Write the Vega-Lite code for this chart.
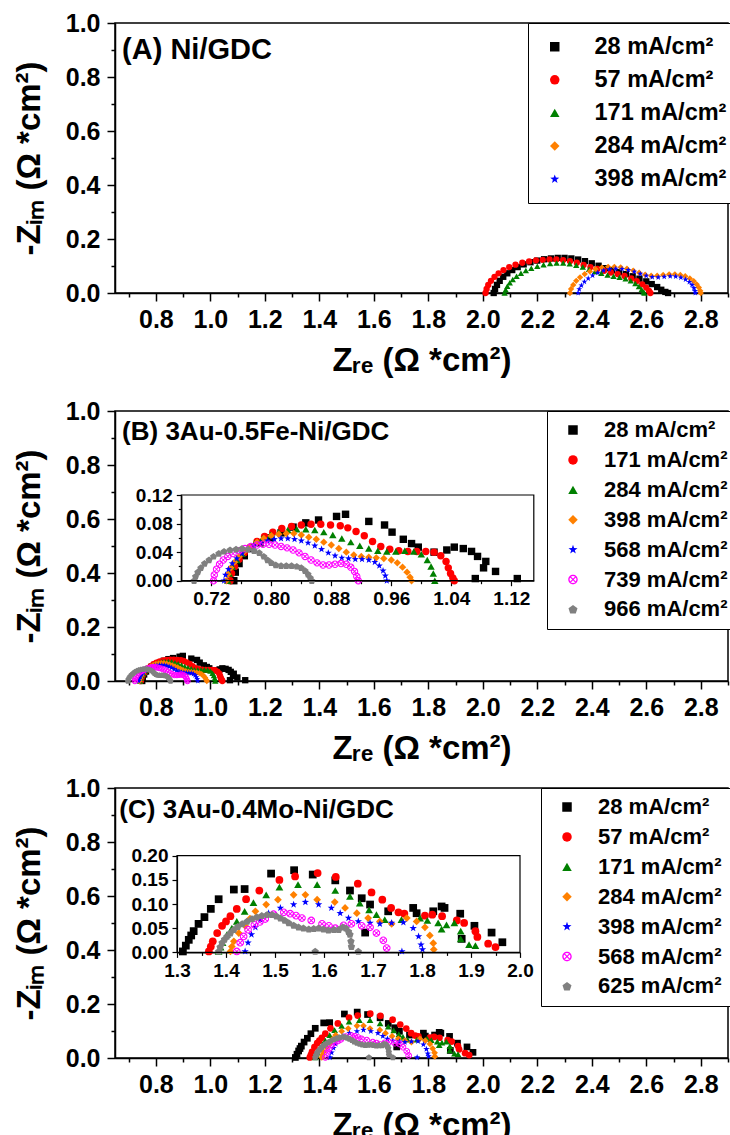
{
  "$schema": "https://vega.github.io/schema/vega-lite/v6.json",
  "background": "white",
  "padding": {"left": 12, "top": 10, "right": 0, "bottom": 0},
  "spacing": 20,
  "config": {
    "font": "Liberation Sans",
    "view": {"stroke": "black", "strokeWidth": 1.5},
    "axis": {"grid": false, "domainColor": "black", "tickColor": "black", "domainWidth": 1.5, "tickWidth": 1.5, "labelColor": "black", "titleColor": "black", "labelFont": "Liberation Sans", "titleFont": "Liberation Sans", "labelFontWeight": "bold", "titleFontWeight": "bold", "labelFontSize": 25, "titleFontSize": 33, "labelFlush": false, "labelOverlap": false},
    "legend": {"labelFont": "Liberation Sans", "labelFontWeight": "bold", "labelColor": "black"}
  },
  "resolve": {"scale": {"x": "independent", "y": "independent", "color": "independent", "shape": "independent"}},
  "datasets": {
    "A": [
      {"j":"28","zre":2.040,"zim":0.000},{"j":"28","zre":2.045,"zim":0.015},{"j":"28","zre":2.052,"zim":0.030},{"j":"28","zre":2.062,"zim":0.045},{"j":"28","zre":2.075,"zim":0.060},{"j":"28","zre":2.090,"zim":0.073},{"j":"28","zre":2.108,"zim":0.085},{"j":"28","zre":2.128,"zim":0.096},{"j":"28","zre":2.150,"zim":0.106},{"j":"28","zre":2.175,"zim":0.114},{"j":"28","zre":2.200,"zim":0.120},{"j":"28","zre":2.225,"zim":0.125},{"j":"28","zre":2.250,"zim":0.128},{"j":"28","zre":2.275,"zim":0.130},{"j":"28","zre":2.300,"zim":0.130},{"j":"28","zre":2.325,"zim":0.128},{"j":"28","zre":2.350,"zim":0.124},{"j":"28","zre":2.375,"zim":0.118},{"j":"28","zre":2.400,"zim":0.110},{"j":"28","zre":2.425,"zim":0.101},{"j":"28","zre":2.450,"zim":0.092},{"j":"28","zre":2.475,"zim":0.084},{"j":"28","zre":2.500,"zim":0.077},{"j":"28","zre":2.525,"zim":0.070},{"j":"28","zre":2.550,"zim":0.062},{"j":"28","zre":2.575,"zim":0.053},{"j":"28","zre":2.600,"zim":0.043},{"j":"28","zre":2.620,"zim":0.033},{"j":"28","zre":2.640,"zim":0.022},{"j":"28","zre":2.655,"zim":0.012},{"j":"28","zre":2.670,"zim":0.004},{"j":"28","zre":2.680,"zim":0.000},
      {"j":"57","zre":2.010,"zim":0.000},{"j":"57","zre":2.014,"zim":0.015},{"j":"57","zre":2.020,"zim":0.030},{"j":"57","zre":2.030,"zim":0.045},{"j":"57","zre":2.043,"zim":0.060},{"j":"57","zre":2.058,"zim":0.073},{"j":"57","zre":2.076,"zim":0.085},{"j":"57","zre":2.097,"zim":0.096},{"j":"57","zre":2.120,"zim":0.105},{"j":"57","zre":2.145,"zim":0.112},{"j":"57","zre":2.170,"zim":0.117},{"j":"57","zre":2.195,"zim":0.121},{"j":"57","zre":2.220,"zim":0.123},{"j":"57","zre":2.245,"zim":0.124},{"j":"57","zre":2.270,"zim":0.124},{"j":"57","zre":2.295,"zim":0.122},{"j":"57","zre":2.320,"zim":0.118},{"j":"57","zre":2.345,"zim":0.112},{"j":"57","zre":2.370,"zim":0.104},{"j":"57","zre":2.395,"zim":0.096},{"j":"57","zre":2.420,"zim":0.089},{"j":"57","zre":2.445,"zim":0.082},{"j":"57","zre":2.470,"zim":0.076},{"j":"57","zre":2.495,"zim":0.070},{"j":"57","zre":2.520,"zim":0.063},{"j":"57","zre":2.545,"zim":0.054},{"j":"57","zre":2.565,"zim":0.044},{"j":"57","zre":2.585,"zim":0.032},{"j":"57","zre":2.600,"zim":0.020},{"j":"57","zre":2.610,"zim":0.008},{"j":"57","zre":2.615,"zim":0.000},
      {"j":"171","zre":2.080,"zim":0.000},{"j":"171","zre":2.084,"zim":0.012},{"j":"171","zre":2.090,"zim":0.025},{"j":"171","zre":2.099,"zim":0.038},{"j":"171","zre":2.110,"zim":0.050},{"j":"171","zre":2.124,"zim":0.062},{"j":"171","zre":2.140,"zim":0.073},{"j":"171","zre":2.158,"zim":0.083},{"j":"171","zre":2.178,"zim":0.092},{"j":"171","zre":2.200,"zim":0.099},{"j":"171","zre":2.223,"zim":0.105},{"j":"171","zre":2.247,"zim":0.109},{"j":"171","zre":2.271,"zim":0.111},{"j":"171","zre":2.295,"zim":0.111},{"j":"171","zre":2.319,"zim":0.108},{"j":"171","zre":2.343,"zim":0.103},{"j":"171","zre":2.367,"zim":0.096},{"j":"171","zre":2.390,"zim":0.088},{"j":"171","zre":2.412,"zim":0.080},{"j":"171","zre":2.435,"zim":0.073},{"j":"171","zre":2.458,"zim":0.067},{"j":"171","zre":2.480,"zim":0.062},{"j":"171","zre":2.502,"zim":0.058},{"j":"171","zre":2.524,"zim":0.053},{"j":"171","zre":2.543,"zim":0.045},{"j":"171","zre":2.560,"zim":0.035},{"j":"171","zre":2.573,"zim":0.024},{"j":"171","zre":2.583,"zim":0.013},{"j":"171","zre":2.590,"zim":0.004},{"j":"171","zre":2.593,"zim":0.000},
      {"j":"284","zre":2.320,"zim":0.000},{"j":"284","zre":2.324,"zim":0.015},{"j":"284","zre":2.332,"zim":0.030},{"j":"284","zre":2.343,"zim":0.045},{"j":"284","zre":2.357,"zim":0.058},{"j":"284","zre":2.374,"zim":0.070},{"j":"284","zre":2.393,"zim":0.080},{"j":"284","zre":2.414,"zim":0.088},{"j":"284","zre":2.437,"zim":0.094},{"j":"284","zre":2.460,"zim":0.097},{"j":"284","zre":2.483,"zim":0.097},{"j":"284","zre":2.506,"zim":0.095},{"j":"284","zre":2.529,"zim":0.090},{"j":"284","zre":2.552,"zim":0.083},{"j":"284","zre":2.574,"zim":0.075},{"j":"284","zre":2.596,"zim":0.068},{"j":"284","zre":2.618,"zim":0.064},{"j":"284","zre":2.640,"zim":0.064},{"j":"284","zre":2.662,"zim":0.067},{"j":"284","zre":2.684,"zim":0.069},{"j":"284","zre":2.705,"zim":0.069},{"j":"284","zre":2.725,"zim":0.067},{"j":"284","zre":2.743,"zim":0.062},{"j":"284","zre":2.760,"zim":0.054},{"j":"284","zre":2.774,"zim":0.044},{"j":"284","zre":2.785,"zim":0.032},{"j":"284","zre":2.793,"zim":0.020},{"j":"284","zre":2.798,"zim":0.008},{"j":"284","zre":2.800,"zim":0.000},
      {"j":"398","zre":2.350,"zim":0.000},{"j":"398","zre":2.354,"zim":0.014},{"j":"398","zre":2.362,"zim":0.028},{"j":"398","zre":2.373,"zim":0.042},{"j":"398","zre":2.387,"zim":0.054},{"j":"398","zre":2.403,"zim":0.065},{"j":"398","zre":2.422,"zim":0.075},{"j":"398","zre":2.443,"zim":0.083},{"j":"398","zre":2.465,"zim":0.088},{"j":"398","zre":2.488,"zim":0.090},{"j":"398","zre":2.511,"zim":0.089},{"j":"398","zre":2.534,"zim":0.085},{"j":"398","zre":2.556,"zim":0.079},{"j":"398","zre":2.578,"zim":0.071},{"j":"398","zre":2.600,"zim":0.064},{"j":"398","zre":2.622,"zim":0.059},{"j":"398","zre":2.644,"zim":0.058},{"j":"398","zre":2.666,"zim":0.060},{"j":"398","zre":2.688,"zim":0.062},{"j":"398","zre":2.708,"zim":0.061},{"j":"398","zre":2.727,"zim":0.057},{"j":"398","zre":2.744,"zim":0.050},{"j":"398","zre":2.758,"zim":0.041},{"j":"398","zre":2.768,"zim":0.030},{"j":"398","zre":2.775,"zim":0.018},{"j":"398","zre":2.779,"zim":0.007},{"j":"398","zre":2.780,"zim":0.000}
    ],
    "B": [
      {"j":"28","zre":0.750,"zim":0.000},{"j":"28","zre":0.752,"zim":0.012},{"j":"28","zre":0.757,"zim":0.024},{"j":"28","zre":0.764,"zim":0.035},{"j":"28","zre":0.773,"zim":0.045},{"j":"28","zre":0.785,"zim":0.053},{"j":"28","zre":0.799,"zim":0.060},{"j":"28","zre":0.813,"zim":0.067},{"j":"28","zre":0.829,"zim":0.075},{"j":"28","zre":0.846,"zim":0.081},{"j":"28","zre":0.863,"zim":0.085},{"j":"28","zre":0.887,"zim":0.090},{"j":"28","zre":0.899,"zim":0.093},{"j":"28","zre":0.930,"zim":0.083},{"j":"28","zre":0.951,"zim":0.078},{"j":"28","zre":0.961,"zim":0.068},{"j":"28","zre":0.976,"zim":0.058},{"j":"28","zre":0.987,"zim":0.052},{"j":"28","zre":0.996,"zim":0.047},{"j":"28","zre":1.017,"zim":0.040},{"j":"28","zre":1.034,"zim":0.043},{"j":"28","zre":1.044,"zim":0.047},{"j":"28","zre":1.056,"zim":0.045},{"j":"28","zre":1.067,"zim":0.041},{"j":"28","zre":1.075,"zim":0.034},{"j":"28","zre":1.086,"zim":0.027},{"j":"28","zre":1.083,"zim":0.018},{"j":"28","zre":1.099,"zim":0.013},{"j":"28","zre":1.072,"zim":0.003},{"j":"28","zre":1.128,"zim":0.003},
      {"j":"171","zre":0.745,"zim":0.000},{"j":"171","zre":0.747,"zim":0.010},{"j":"171","zre":0.751,"zim":0.020},{"j":"171","zre":0.757,"zim":0.030},{"j":"171","zre":0.764,"zim":0.039},{"j":"171","zre":0.772,"zim":0.047},{"j":"171","zre":0.781,"zim":0.055},{"j":"171","zre":0.791,"zim":0.062},{"j":"171","zre":0.802,"zim":0.068},{"j":"171","zre":0.814,"zim":0.073},{"j":"171","zre":0.827,"zim":0.076},{"j":"171","zre":0.840,"zim":0.078},{"j":"171","zre":0.853,"zim":0.079},{"j":"171","zre":0.866,"zim":0.079},{"j":"171","zre":0.879,"zim":0.078},{"j":"171","zre":0.892,"zim":0.077},{"j":"171","zre":0.902,"zim":0.074},{"j":"171","zre":0.913,"zim":0.069},{"j":"171","zre":0.924,"zim":0.063},{"j":"171","zre":0.935,"zim":0.055},{"j":"171","zre":0.946,"zim":0.048},{"j":"171","zre":0.958,"zim":0.044},{"j":"171","zre":0.970,"zim":0.042},{"j":"171","zre":0.982,"zim":0.041},{"j":"171","zre":0.994,"zim":0.041},{"j":"171","zre":1.006,"zim":0.041},{"j":"171","zre":1.017,"zim":0.040},{"j":"171","zre":1.026,"zim":0.035},{"j":"171","zre":1.033,"zim":0.027},{"j":"171","zre":1.036,"zim":0.018},{"j":"171","zre":1.039,"zim":0.010},{"j":"171","zre":1.042,"zim":0.004},{"j":"171","zre":1.044,"zim":0.000},
      {"j":"284","zre":0.742,"zim":0.000},{"j":"284","zre":0.744,"zim":0.010},{"j":"284","zre":0.748,"zim":0.020},{"j":"284","zre":0.754,"zim":0.029},{"j":"284","zre":0.761,"zim":0.038},{"j":"284","zre":0.769,"zim":0.046},{"j":"284","zre":0.778,"zim":0.053},{"j":"284","zre":0.788,"zim":0.059},{"j":"284","zre":0.799,"zim":0.064},{"j":"284","zre":0.810,"zim":0.068},{"j":"284","zre":0.822,"zim":0.071},{"j":"284","zre":0.834,"zim":0.072},{"j":"284","zre":0.846,"zim":0.072},{"j":"284","zre":0.858,"zim":0.071},{"j":"284","zre":0.870,"zim":0.068},{"j":"284","zre":0.882,"zim":0.064},{"j":"284","zre":0.894,"zim":0.059},{"j":"284","zre":0.906,"zim":0.054},{"j":"284","zre":0.918,"zim":0.049},{"j":"284","zre":0.930,"zim":0.045},{"j":"284","zre":0.942,"zim":0.042},{"j":"284","zre":0.954,"zim":0.041},{"j":"284","zre":0.966,"zim":0.041},{"j":"284","zre":0.978,"zim":0.042},{"j":"284","zre":0.990,"zim":0.041},{"j":"284","zre":1.000,"zim":0.037},{"j":"284","zre":1.008,"zim":0.029},{"j":"284","zre":1.013,"zim":0.020},{"j":"284","zre":1.016,"zim":0.010},{"j":"284","zre":1.018,"zim":0.000},
      {"j":"398","zre":0.740,"zim":0.000},{"j":"398","zre":0.742,"zim":0.009},{"j":"398","zre":0.746,"zim":0.018},{"j":"398","zre":0.751,"zim":0.026},{"j":"398","zre":0.757,"zim":0.034},{"j":"398","zre":0.764,"zim":0.041},{"j":"398","zre":0.772,"zim":0.048},{"j":"398","zre":0.781,"zim":0.054},{"j":"398","zre":0.790,"zim":0.059},{"j":"398","zre":0.800,"zim":0.063},{"j":"398","zre":0.810,"zim":0.065},{"j":"398","zre":0.820,"zim":0.066},{"j":"398","zre":0.830,"zim":0.066},{"j":"398","zre":0.840,"zim":0.064},{"j":"398","zre":0.850,"zim":0.061},{"j":"398","zre":0.860,"zim":0.058},{"j":"398","zre":0.870,"zim":0.054},{"j":"398","zre":0.880,"zim":0.050},{"j":"398","zre":0.890,"zim":0.045},{"j":"398","zre":0.900,"zim":0.040},{"j":"398","zre":0.910,"zim":0.036},{"j":"398","zre":0.920,"zim":0.034},{"j":"398","zre":0.930,"zim":0.033},{"j":"398","zre":0.940,"zim":0.032},{"j":"398","zre":0.950,"zim":0.031},{"j":"398","zre":0.960,"zim":0.029},{"j":"398","zre":0.968,"zim":0.025},{"j":"398","zre":0.975,"zim":0.019},{"j":"398","zre":0.981,"zim":0.012},{"j":"398","zre":0.985,"zim":0.005},{"j":"398","zre":0.987,"zim":0.000},
      {"j":"568","zre":0.737,"zim":0.000},{"j":"568","zre":0.739,"zim":0.008},{"j":"568","zre":0.743,"zim":0.016},{"j":"568","zre":0.748,"zim":0.024},{"j":"568","zre":0.754,"zim":0.031},{"j":"568","zre":0.761,"zim":0.038},{"j":"568","zre":0.769,"zim":0.044},{"j":"568","zre":0.777,"zim":0.049},{"j":"568","zre":0.786,"zim":0.053},{"j":"568","zre":0.795,"zim":0.056},{"j":"568","zre":0.804,"zim":0.058},{"j":"568","zre":0.813,"zim":0.059},{"j":"568","zre":0.822,"zim":0.059},{"j":"568","zre":0.831,"zim":0.058},{"j":"568","zre":0.840,"zim":0.056},{"j":"568","zre":0.849,"zim":0.053},{"j":"568","zre":0.858,"zim":0.049},{"j":"568","zre":0.867,"zim":0.044},{"j":"568","zre":0.876,"zim":0.039},{"j":"568","zre":0.885,"zim":0.035},{"j":"568","zre":0.894,"zim":0.032},{"j":"568","zre":0.903,"zim":0.031},{"j":"568","zre":0.912,"zim":0.030},{"j":"568","zre":0.921,"zim":0.030},{"j":"568","zre":0.930,"zim":0.029},{"j":"568","zre":0.938,"zim":0.026},{"j":"568","zre":0.944,"zim":0.021},{"j":"568","zre":0.949,"zim":0.014},{"j":"568","zre":0.952,"zim":0.007},{"j":"568","zre":0.954,"zim":0.000},
      {"j":"739","zre":0.723,"zim":0.000},{"j":"739","zre":0.724,"zim":0.008},{"j":"739","zre":0.727,"zim":0.016},{"j":"739","zre":0.731,"zim":0.023},{"j":"739","zre":0.736,"zim":0.029},{"j":"739","zre":0.742,"zim":0.034},{"j":"739","zre":0.749,"zim":0.038},{"j":"739","zre":0.757,"zim":0.042},{"j":"739","zre":0.765,"zim":0.045},{"j":"739","zre":0.773,"zim":0.048},{"j":"739","zre":0.781,"zim":0.050},{"j":"739","zre":0.789,"zim":0.051},{"j":"739","zre":0.797,"zim":0.051},{"j":"739","zre":0.805,"zim":0.050},{"j":"739","zre":0.813,"zim":0.048},{"j":"739","zre":0.821,"zim":0.046},{"j":"739","zre":0.829,"zim":0.043},{"j":"739","zre":0.837,"zim":0.039},{"j":"739","zre":0.845,"zim":0.034},{"j":"739","zre":0.853,"zim":0.029},{"j":"739","zre":0.861,"zim":0.025},{"j":"739","zre":0.869,"zim":0.022},{"j":"739","zre":0.877,"zim":0.022},{"j":"739","zre":0.885,"zim":0.023},{"j":"739","zre":0.893,"zim":0.024},{"j":"739","zre":0.900,"zim":0.023},{"j":"739","zre":0.906,"zim":0.019},{"j":"739","zre":0.911,"zim":0.013},{"j":"739","zre":0.914,"zim":0.006},{"j":"739","zre":0.916,"zim":0.000},
      {"j":"966","zre":0.697,"zim":0.000},{"j":"966","zre":0.699,"zim":0.006},{"j":"966","zre":0.702,"zim":0.012},{"j":"966","zre":0.706,"zim":0.018},{"j":"966","zre":0.711,"zim":0.024},{"j":"966","zre":0.717,"zim":0.029},{"j":"966","zre":0.723,"zim":0.034},{"j":"966","zre":0.730,"zim":0.038},{"j":"966","zre":0.737,"zim":0.041},{"j":"966","zre":0.745,"zim":0.043},{"j":"966","zre":0.753,"zim":0.044},{"j":"966","zre":0.761,"zim":0.045},{"j":"966","zre":0.769,"zim":0.044},{"j":"966","zre":0.777,"zim":0.042},{"j":"966","zre":0.784,"zim":0.039},{"j":"966","zre":0.790,"zim":0.034},{"j":"966","zre":0.795,"zim":0.029},{"j":"966","zre":0.800,"zim":0.025},{"j":"966","zre":0.806,"zim":0.022},{"j":"966","zre":0.813,"zim":0.021},{"j":"966","zre":0.820,"zim":0.021},{"j":"966","zre":0.827,"zim":0.021},{"j":"966","zre":0.834,"zim":0.020},{"j":"966","zre":0.840,"zim":0.018},{"j":"966","zre":0.845,"zim":0.014},{"j":"966","zre":0.849,"zim":0.009},{"j":"966","zre":0.852,"zim":0.004},{"j":"966","zre":0.854,"zim":0.000}
    ],
    "C": [
      {"j":"28","zre":1.312,"zim":0.002},{"j":"28","zre":1.318,"zim":0.014},{"j":"28","zre":1.324,"zim":0.026},{"j":"28","zre":1.329,"zim":0.035},{"j":"28","zre":1.334,"zim":0.044},{"j":"28","zre":1.344,"zim":0.059},{"j":"28","zre":1.356,"zim":0.073},{"j":"28","zre":1.369,"zim":0.090},{"j":"28","zre":1.385,"zim":0.110},{"j":"28","zre":1.416,"zim":0.130},{"j":"28","zre":1.438,"zim":0.131},{"j":"28","zre":1.492,"zim":0.163},{"j":"28","zre":1.539,"zim":0.170},{"j":"28","zre":1.577,"zim":0.161},{"j":"28","zre":1.623,"zim":0.149},{"j":"28","zre":1.653,"zim":0.128},{"j":"28","zre":1.677,"zim":0.112},{"j":"28","zre":1.684,"zim":0.041},{"j":"28","zre":1.694,"zim":0.099},{"j":"28","zre":1.731,"zim":0.085},{"j":"28","zre":1.782,"zim":0.092},{"j":"28","zre":1.789,"zim":0.081},{"j":"28","zre":1.823,"zim":0.085},{"j":"28","zre":1.840,"zim":0.095},{"j":"28","zre":1.846,"zim":0.092},{"j":"28","zre":1.878,"zim":0.080},{"j":"28","zre":1.881,"zim":0.028},{"j":"28","zre":1.907,"zim":0.055},{"j":"28","zre":1.942,"zim":0.041},{"j":"28","zre":1.964,"zim":0.021},
      {"j":"57","zre":1.365,"zim":0.002},{"j":"57","zre":1.369,"zim":0.012},{"j":"57","zre":1.373,"zim":0.023},{"j":"57","zre":1.382,"zim":0.040},{"j":"57","zre":1.392,"zim":0.055},{"j":"57","zre":1.400,"zim":0.064},{"j":"57","zre":1.409,"zim":0.075},{"j":"57","zre":1.422,"zim":0.090},{"j":"57","zre":1.441,"zim":0.110},{"j":"57","zre":1.468,"zim":0.128},{"j":"57","zre":1.509,"zim":0.150},{"j":"57","zre":1.541,"zim":0.157},{"j":"57","zre":1.587,"zim":0.164},{"j":"57","zre":1.624,"zim":0.156},{"j":"57","zre":1.669,"zim":0.142},{"j":"57","zre":1.697,"zim":0.124},{"j":"57","zre":1.719,"zim":0.109},{"j":"57","zre":1.737,"zim":0.092},{"j":"57","zre":1.752,"zim":0.083},{"j":"57","zre":1.764,"zim":0.080},{"j":"57","zre":1.806,"zim":0.076},{"j":"57","zre":1.821,"zim":0.078},{"j":"57","zre":1.841,"zim":0.075},{"j":"57","zre":1.871,"zim":0.066},{"j":"57","zre":1.886,"zim":0.061},{"j":"57","zre":1.909,"zim":0.044},{"j":"57","zre":1.913,"zim":0.032},{"j":"57","zre":1.935,"zim":0.018},{"j":"57","zre":1.950,"zim":0.011},
      {"j":"171","zre":1.385,"zim":0.002},{"j":"171","zre":1.389,"zim":0.011},{"j":"171","zre":1.393,"zim":0.020},{"j":"171","zre":1.402,"zim":0.037},{"j":"171","zre":1.412,"zim":0.050},{"j":"171","zre":1.422,"zim":0.064},{"j":"171","zre":1.438,"zim":0.085},{"j":"171","zre":1.456,"zim":0.103},{"j":"171","zre":1.482,"zim":0.119},{"j":"171","zre":1.509,"zim":0.135},{"j":"171","zre":1.547,"zim":0.140},{"j":"171","zre":1.586,"zim":0.140},{"j":"171","zre":1.623,"zim":0.128},{"j":"171","zre":1.653,"zim":0.116},{"j":"171","zre":1.673,"zim":0.102},{"j":"171","zre":1.692,"zim":0.088},{"j":"171","zre":1.707,"zim":0.078},{"j":"171","zre":1.724,"zim":0.068},{"j":"171","zre":1.758,"zim":0.068},{"j":"171","zre":1.796,"zim":0.071},{"j":"171","zre":1.811,"zim":0.066},{"j":"171","zre":1.833,"zim":0.061},{"j":"171","zre":1.840,"zim":0.048},{"j":"171","zre":1.850,"zim":0.057},{"j":"171","zre":1.866,"zim":0.061},{"j":"171","zre":1.879,"zim":0.044},{"j":"171","zre":1.879,"zim":0.028},{"j":"171","zre":1.896,"zim":0.016},{"j":"171","zre":1.909,"zim":0.014},
      {"j":"284","zre":1.409,"zim":0.002},{"j":"284","zre":1.412,"zim":0.012},{"j":"284","zre":1.416,"zim":0.023},{"j":"284","zre":1.426,"zim":0.040},{"j":"284","zre":1.439,"zim":0.055},{"j":"284","zre":1.449,"zim":0.070},{"j":"284","zre":1.460,"zim":0.085},{"j":"284","zre":1.482,"zim":0.099},{"j":"284","zre":1.506,"zim":0.109},{"j":"284","zre":1.538,"zim":0.119},{"j":"284","zre":1.562,"zim":0.119},{"j":"284","zre":1.586,"zim":0.109},{"j":"284","zre":1.622,"zim":0.104},{"j":"284","zre":1.643,"zim":0.092},{"j":"284","zre":1.667,"zim":0.081},{"j":"284","zre":1.690,"zim":0.071},{"j":"284","zre":1.714,"zim":0.064},{"j":"284","zre":1.738,"zim":0.059},{"j":"284","zre":1.769,"zim":0.071},{"j":"284","zre":1.789,"zim":0.064},{"j":"284","zre":1.806,"zim":0.052},{"j":"284","zre":1.816,"zim":0.035},{"j":"284","zre":1.823,"zim":0.019},{"j":"284","zre":1.824,"zim":0.006},
      {"j":"398","zre":1.439,"zim":0.002},{"j":"398","zre":1.445,"zim":0.020},{"j":"398","zre":1.452,"zim":0.037},{"j":"398","zre":1.460,"zim":0.052},{"j":"398","zre":1.470,"zim":0.068},{"j":"398","zre":1.487,"zim":0.081},{"j":"398","zre":1.511,"zim":0.092},{"j":"398","zre":1.538,"zim":0.099},{"j":"398","zre":1.562,"zim":0.104},{"j":"398","zre":1.589,"zim":0.099},{"j":"398","zre":1.615,"zim":0.092},{"j":"398","zre":1.633,"zim":0.081},{"j":"398","zre":1.650,"zim":0.071},{"j":"398","zre":1.670,"zim":0.064},{"j":"398","zre":1.694,"zim":0.061},{"j":"398","zre":1.714,"zim":0.059},{"j":"398","zre":1.738,"zim":0.061},{"j":"398","zre":1.762,"zim":0.062},{"j":"398","zre":1.782,"zim":0.050},{"j":"398","zre":1.793,"zim":0.033},{"j":"398","zre":1.798,"zim":0.016},{"j":"398","zre":1.801,"zim":0.006},{"j":"398","zre":1.759,"zim":0.002},
      {"j":"568","zre":1.422,"zim":0.002},{"j":"568","zre":1.429,"zim":0.020},{"j":"568","zre":1.436,"zim":0.033},{"j":"568","zre":1.445,"zim":0.047},{"j":"568","zre":1.458,"zim":0.057},{"j":"568","zre":1.469,"zim":0.063},{"j":"568","zre":1.480,"zim":0.069},{"j":"568","zre":1.497,"zim":0.079},{"j":"568","zre":1.518,"zim":0.083},{"j":"568","zre":1.531,"zim":0.080},{"j":"568","zre":1.543,"zim":0.076},{"j":"568","zre":1.555,"zim":0.071},{"j":"568","zre":1.574,"zim":0.066},{"j":"568","zre":1.596,"zim":0.059},{"j":"568","zre":1.610,"zim":0.055},{"j":"568","zre":1.623,"zim":0.050},{"j":"568","zre":1.640,"zim":0.056},{"j":"568","zre":1.656,"zim":0.059},{"j":"568","zre":1.677,"zim":0.055},{"j":"568","zre":1.694,"zim":0.052},{"j":"568","zre":1.707,"zim":0.040},{"j":"568","zre":1.721,"zim":0.025},{"j":"568","zre":1.728,"zim":0.009},
      {"j":"625","zre":1.385,"zim":0.002},{"j":"625","zre":1.388,"zim":0.011},{"j":"625","zre":1.392,"zim":0.020},{"j":"625","zre":1.397,"zim":0.027},{"j":"625","zre":1.402,"zim":0.033},{"j":"625","zre":1.409,"zim":0.040},{"j":"625","zre":1.416,"zim":0.047},{"j":"625","zre":1.424,"zim":0.053},{"j":"625","zre":1.433,"zim":0.059},{"j":"625","zre":1.443,"zim":0.064},{"j":"625","zre":1.453,"zim":0.069},{"j":"625","zre":1.463,"zim":0.073},{"j":"625","zre":1.473,"zim":0.076},{"j":"625","zre":1.484,"zim":0.078},{"j":"625","zre":1.494,"zim":0.078},{"j":"625","zre":1.503,"zim":0.075},{"j":"625","zre":1.511,"zim":0.071},{"j":"625","zre":1.520,"zim":0.066},{"j":"625","zre":1.528,"zim":0.061},{"j":"625","zre":1.538,"zim":0.056},{"j":"625","zre":1.548,"zim":0.052},{"j":"625","zre":1.558,"zim":0.050},{"j":"625","zre":1.569,"zim":0.048},{"j":"625","zre":1.579,"zim":0.049},{"j":"625","zre":1.589,"zim":0.050},{"j":"625","zre":1.599,"zim":0.048},{"j":"625","zre":1.609,"zim":0.046},{"j":"625","zre":1.620,"zim":0.047},{"j":"625","zre":1.630,"zim":0.047},{"j":"625","zre":1.638,"zim":0.052},{"j":"625","zre":1.645,"zim":0.050},{"j":"625","zre":1.650,"zim":0.043},{"j":"625","zre":1.653,"zim":0.037},{"j":"625","zre":1.655,"zim":0.023},{"j":"625","zre":1.656,"zim":0.012},{"j":"625","zre":1.670,"zim":0.002},{"j":"625","zre":1.582,"zim":0.002}
    ]
  },
  "vconcat": [
    {
      "width": 613, "height": 270,
      "data": {"name": "A"},
      "resolve": {"axis": {"x": "independent", "y": "independent"}},
      "layer": [
        {
          "mark": {"type": "point", "filled": true, "size": 40, "opacity": 1},
          "encoding": {
            "x": {"field": "zre", "type": "quantitative", "scale": {"domain": [0.65, 2.9], "nice": false, "zero": false},
              "axis": {"orient": "bottom", "title": "Zᵣₑ (Ω *cm²)", "values": [0.8,1.0,1.2,1.4,1.6,1.8,2.0,2.2,2.4,2.6,2.8], "format": ".1f", "tickSize": 8, "labelPadding": 6, "titlePadding": 12}},
            "y": {"field": "zim", "type": "quantitative", "scale": {"domain": [0, 1], "nice": false},
              "axis": {"orient": "left", "title": "-Zᵢₘ (Ω *cm²)", "values": [0,0.2,0.4,0.6,0.8,1.0], "format": ".1f", "tickSize": 8, "labelPadding": 7, "titlePadding": 19}},
            "color": {"field": "j", "type": "nominal", "scale": {"domain": ["28","57","171","284","398"], "range": ["#000000","#ff0000","#008000","#ff8000","#0000ff"]},
              "legend": {"orient": "none", "legendX": 413, "legendY": 0, "title": null, "labelExpr": "datum.label + ' mA/cm²'", "strokeColor": "black", "fillColor": "white", "padding": 12, "labelFontSize": 23.5, "symbolSize": 90, "rowPadding": 8.1, "symbolOffset": 3, "labelOffset": 28}},
            "shape": {"field": "j", "type": "nominal", "scale": {"domain": ["28","57","171","284","398"], "range": ["square","circle","triangle-up","diamond","M0,-1L0.235,-0.324L0.951,-0.309L0.38,0.124L0.588,0.809L0,0.4L-0.588,0.809L-0.38,0.124L-0.951,-0.309L-0.235,-0.324Z"]},
              "legend": {"orient": "none", "legendX": 413, "legendY": 0, "title": null, "labelExpr": "datum.label + ' mA/cm²'", "strokeColor": "black", "fillColor": "white", "padding": 12, "labelFontSize": 23.5, "symbolSize": 90, "rowPadding": 8.1, "symbolOffset": 3, "labelOffset": 28}}
          }
        },
        {
          "data": {"values": [{"label": "(A) Ni/GDC"}]},
          "mark": {"type": "text", "align": "left", "baseline": "middle", "fontSize": 29, "fontWeight": "bold", "color": "black"},
          "encoding": {
            "x": {"datum": 0.676, "type": "quantitative", "axis": {"orient": "bottom", "title": null, "labels": false, "domain": false, "values": [0.7,0.9,1.1,1.3,1.5,1.7,1.9,2.1,2.3,2.5,2.7,2.9], "tickSize": 4}},
            "y": {"datum": 0.9, "type": "quantitative", "axis": {"orient": "left", "title": null, "labels": false, "domain": false, "values": [0.1,0.3,0.5,0.7,0.9], "tickSize": 4}},
            "text": {"field": "label"}}
        }
      ]
    },
    {
      "spacing": 9,
      "resolve": {"scale": {"x": "independent", "y": "independent", "color": "independent", "shape": "independent"}},
      "vconcat": [
        {
          "width": 613, "height": 270,
          "data": {"name": "B"},
          "resolve": {"scale": {"x": "independent", "y": "independent"}},
          "layer": [
            {
              "resolve": {"axis": {"x": "independent", "y": "independent"}},
              "layer": [
                {
                  "mark": {"type": "point", "filled": true, "size": 40, "opacity": 1},
                  "encoding": {
                    "x": {"field": "zre", "type": "quantitative", "scale": {"domain": [0.65, 2.9], "nice": false, "zero": false},
                      "axis": {"orient": "bottom", "title": "Zᵣₑ (Ω *cm²)", "values": [0.8,1.0,1.2,1.4,1.6,1.8,2.0,2.2,2.4,2.6,2.8], "format": ".1f", "tickSize": 8, "labelPadding": 6, "titlePadding": 12}},
                    "y": {"field": "zim", "type": "quantitative", "scale": {"domain": [0, 1], "nice": false},
                      "axis": {"orient": "left", "title": "-Zᵢₘ (Ω *cm²)", "values": [0,0.2,0.4,0.6,0.8,1.0], "format": ".1f", "tickSize": 8, "labelPadding": 7, "titlePadding": 19}},
                    "color": {"field": "j", "type": "nominal", "scale": {"domain": ["28","171","284","398","568","739","966"], "range": ["#000000","#ff0000","#008000","#ff8000","#0000ff","#ff00ff","#808080"]},
                      "legend": {"orient": "none", "legendX": 432, "legendY": 0, "title": null, "labelExpr": "datum.label + ' mA/cm²'", "strokeColor": "black", "fillColor": "white", "padding": 8, "labelFontSize": 22, "symbolSize": 90, "rowPadding": 7.9, "symbolOffset": 7, "labelOffset": 20}},
                    "shape": {"field": "j", "type": "nominal", "scale": {"domain": ["28","171","284","398","568","739","966"], "range": ["square","circle","triangle-up","diamond","M0,-1L0.235,-0.324L0.951,-0.309L0.38,0.124L0.588,0.809L0,0.4L-0.588,0.809L-0.38,0.124L-0.951,-0.309L-0.235,-0.324Z","M1,0A1,1 0 1,1 -1,0A1,1 0 1,1 1,0Z M0.72,0A0.72,0.72 0 1,0 -0.72,0A0.72,0.72 0 1,0 0.72,0Z M-0.688,-0.512L-0.512,-0.688L0.688,0.512L0.512,0.688Z M0.512,-0.688L0.688,-0.512L-0.512,0.688L-0.688,0.512Z","M0,-0.95L0.95,-0.26L0.59,0.86L-0.59,0.86L-0.95,-0.26Z"]},
                      "legend": {"orient": "none", "legendX": 432, "legendY": 0, "title": null, "labelExpr": "datum.label + ' mA/cm²'", "strokeColor": "black", "fillColor": "white", "padding": 8, "labelFontSize": 22, "symbolSize": 90, "rowPadding": 7.9, "symbolOffset": 7, "labelOffset": 20}}
                  }
                },
                {
                  "data": {"values": [{"label": "(B) 3Au-0.5Fe-Ni/GDC"}]},
                  "mark": {"type": "text", "align": "left", "baseline": "middle", "fontSize": 26, "fontWeight": "bold", "color": "black"},
                  "encoding": {
                    "x": {"datum": 0.676, "type": "quantitative", "axis": {"orient": "bottom", "title": null, "labels": false, "domain": false, "values": [0.7,0.9,1.1,1.3,1.5,1.7,1.9,2.1,2.3,2.5,2.7,2.9], "tickSize": 4}},
                    "y": {"datum": 0.922, "type": "quantitative", "axis": {"orient": "left", "title": null, "labels": false, "domain": false, "values": [0.1,0.3,0.5,0.7,0.9], "tickSize": 4}},
                    "text": {"field": "label"}}
                }
              ]
            },
            {
              "layer": [
                {
                  "mark": {"type": "point", "filled": true, "size": 55, "opacity": 1},
                  "encoding": {
                    "x": {"field": "zre", "type": "quantitative", "scale": {"domain": [0.68, 1.15], "range": [66.3, 418.8], "nice": false, "zero": false},
                      "axis": {"orient": "bottom", "offset": -100.3, "title": null, "labelFontSize": 19, "domainWidth": 1.2, "tickWidth": 1.2, "values": [0.72,0.76,0.8,0.84,0.88,0.92,0.96,1.0,1.04,1.08,1.12], "labelExpr": "abs((datum.value-0.72)/0.08-round((datum.value-0.72)/0.08))<0.01 ? format(datum.value,'.2f') : ''", "tickSize": {"condition": {"test": "abs((datum.value-0.72)/0.08-round((datum.value-0.72)/0.08))<0.01", "value": 5}, "value": 3}, "labelPadding": 4}},
                    "y": {"field": "zim", "type": "quantitative", "scale": {"domain": [0, 0.12], "range": [169.7, 84], "nice": false},
                      "axis": {"orient": "left", "offset": -66.3, "title": null, "labelFontSize": 19, "domainWidth": 1.2, "tickWidth": 1.2, "values": [0,0.02,0.04,0.06,0.08,0.1,0.12], "labelExpr": "abs(datum.value/0.04-round(datum.value/0.04))<0.01 ? format(datum.value,'.2f') : ''", "tickSize": {"condition": {"test": "abs(datum.value/0.04-round(datum.value/0.04))<0.01", "value": 5}, "value": 3}, "labelPadding": 4}},
                    "color": {"field": "j", "type": "nominal", "scale": {"domain": ["28","171","284","398","568","739","966"], "range": ["#000000","#ff0000","#008000","#ff8000","#0000ff","#ff00ff","#808080"]},
                      "legend": {"orient": "none", "legendX": 432, "legendY": 0, "title": null, "labelExpr": "datum.label + ' mA/cm²'", "strokeColor": "black", "fillColor": "white", "padding": 8, "labelFontSize": 22, "symbolSize": 90, "rowPadding": 7.9, "symbolOffset": 7, "labelOffset": 20}},
                    "shape": {"field": "j", "type": "nominal", "scale": {"domain": ["28","171","284","398","568","739","966"], "range": ["square","circle","triangle-up","diamond","M0,-1L0.235,-0.324L0.951,-0.309L0.38,0.124L0.588,0.809L0,0.4L-0.588,0.809L-0.38,0.124L-0.951,-0.309L-0.235,-0.324Z","M1,0A1,1 0 1,1 -1,0A1,1 0 1,1 1,0Z M0.72,0A0.72,0.72 0 1,0 -0.72,0A0.72,0.72 0 1,0 0.72,0Z M-0.688,-0.512L-0.512,-0.688L0.688,0.512L0.512,0.688Z M0.512,-0.688L0.688,-0.512L-0.512,0.688L-0.688,0.512Z","M0,-0.95L0.95,-0.26L0.59,0.86L-0.59,0.86L-0.95,-0.26Z"]},
                      "legend": {"orient": "none", "legendX": 432, "legendY": 0, "title": null, "labelExpr": "datum.label + ' mA/cm²'", "strokeColor": "black", "fillColor": "white", "padding": 8, "labelFontSize": 22, "symbolSize": 90, "rowPadding": 7.9, "symbolOffset": 7, "labelOffset": 20}}
                  }
                },
                {
                  "data": {"values": [{}]},
                  "mark": {"type": "rect", "fillOpacity": 0, "stroke": "black", "strokeWidth": 1.2},
                  "encoding": {"x": {"datum": 0.68, "type": "quantitative"}, "x2": {"datum": 1.15}, "y": {"datum": 0, "type": "quantitative"}, "y2": {"datum": 0.12}}
                }
              ]
            }
          ]
        },
        {
          "width": 613, "height": 270,
          "data": {"name": "C"},
          "resolve": {"scale": {"x": "independent", "y": "independent"}},
          "layer": [
            {
              "resolve": {"axis": {"x": "independent", "y": "independent"}},
              "layer": [
                {
                  "mark": {"type": "point", "filled": true, "size": 45, "opacity": 1},
                  "encoding": {
                    "x": {"field": "zre", "type": "quantitative", "scale": {"domain": [0.65, 2.9], "nice": false, "zero": false},
                      "axis": {"orient": "bottom", "title": "Zᵣₑ (Ω *cm²)", "values": [0.8,1.0,1.2,1.4,1.6,1.8,2.0,2.2,2.4,2.6,2.8], "format": ".1f", "tickSize": 8, "labelPadding": 6, "titlePadding": 12}},
                    "y": {"field": "zim", "type": "quantitative", "scale": {"domain": [0, 1], "nice": false},
                      "axis": {"orient": "left", "title": "-Zᵢₘ (Ω *cm²)", "values": [0,0.2,0.4,0.6,0.8,1.0], "format": ".1f", "tickSize": 8, "labelPadding": 7, "titlePadding": 19}},
                    "color": {"field": "j", "type": "nominal", "scale": {"domain": ["28","57","171","284","398","568","625"], "range": ["#000000","#ff0000","#008000","#ff8000","#0000ff","#ff00ff","#808080"]},
                      "legend": {"orient": "none", "legendX": 426, "legendY": 0, "title": null, "labelExpr": "datum.label + ' mA/cm²'", "strokeColor": "black", "fillColor": "white", "padding": 8, "labelFontSize": 22, "symbolSize": 90, "rowPadding": 7.9, "symbolOffset": 7, "labelOffset": 20}},
                    "shape": {"field": "j", "type": "nominal", "scale": {"domain": ["28","57","171","284","398","568","625"], "range": ["square","circle","triangle-up","diamond","M0,-1L0.235,-0.324L0.951,-0.309L0.38,0.124L0.588,0.809L0,0.4L-0.588,0.809L-0.38,0.124L-0.951,-0.309L-0.235,-0.324Z","M1,0A1,1 0 1,1 -1,0A1,1 0 1,1 1,0Z M0.72,0A0.72,0.72 0 1,0 -0.72,0A0.72,0.72 0 1,0 0.72,0Z M-0.688,-0.512L-0.512,-0.688L0.688,0.512L0.512,0.688Z M0.512,-0.688L0.688,-0.512L-0.512,0.688L-0.688,0.512Z","M0,-0.95L0.95,-0.26L0.59,0.86L-0.59,0.86L-0.95,-0.26Z"]},
                      "legend": {"orient": "none", "legendX": 426, "legendY": 0, "title": null, "labelExpr": "datum.label + ' mA/cm²'", "strokeColor": "black", "fillColor": "white", "padding": 8, "labelFontSize": 22, "symbolSize": 90, "rowPadding": 7.9, "symbolOffset": 7, "labelOffset": 20}}
                  }
                },
                {
                  "data": {"values": [{"label": "(C) 3Au-0.4Mo-Ni/GDC"}]},
                  "mark": {"type": "text", "align": "left", "baseline": "middle", "fontSize": 26, "fontWeight": "bold", "color": "black"},
                  "encoding": {
                    "x": {"datum": 0.666, "type": "quantitative", "axis": {"orient": "bottom", "title": null, "labels": false, "domain": false, "values": [0.7,0.9,1.1,1.3,1.5,1.7,1.9,2.1,2.3,2.5,2.7,2.9], "tickSize": 4}},
                    "y": {"datum": 0.919, "type": "quantitative", "axis": {"orient": "left", "title": null, "labels": false, "domain": false, "values": [0.1,0.3,0.5,0.7,0.9], "tickSize": 4}},
                    "text": {"field": "label"}}
                }
              ]
            },
            {
              "layer": [
                {
                  "mark": {"type": "point", "filled": true, "size": 60, "opacity": 1},
                  "encoding": {
                    "x": {"field": "zre", "type": "quantitative", "scale": {"domain": [1.3, 2.0], "range": [62, 405], "nice": false, "zero": false},
                      "axis": {"orient": "bottom", "offset": -105.6, "title": null, "labelFontSize": 19, "domainWidth": 1.2, "tickWidth": 1.2, "values": [1.3,1.35,1.4,1.45,1.5,1.55,1.6,1.65,1.7,1.75,1.8,1.85,1.9,1.95,2.0], "labelExpr": "abs(datum.value*10-round(datum.value*10))<0.01 ? format(datum.value,'.1f') : ''", "tickSize": {"condition": {"test": "abs(datum.value*10-round(datum.value*10))<0.01", "value": 5}, "value": 3}, "labelPadding": 4}},
                    "y": {"field": "zim", "type": "quantitative", "scale": {"domain": [0, 0.2], "range": [164.4, 67.7], "nice": false},
                      "axis": {"orient": "left", "offset": -62, "title": null, "labelFontSize": 19, "domainWidth": 1.2, "tickWidth": 1.2, "values": [0,0.025,0.05,0.075,0.1,0.125,0.15,0.175,0.2], "labelExpr": "abs(datum.value*20-round(datum.value*20))<0.01 ? format(datum.value,'.2f') : ''", "tickSize": {"condition": {"test": "abs(datum.value*20-round(datum.value*20))<0.01", "value": 5}, "value": 3}, "labelPadding": 4}},
                    "color": {"field": "j", "type": "nominal", "scale": {"domain": ["28","57","171","284","398","568","625"], "range": ["#000000","#ff0000","#008000","#ff8000","#0000ff","#ff00ff","#808080"]},
                      "legend": {"orient": "none", "legendX": 426, "legendY": 0, "title": null, "labelExpr": "datum.label + ' mA/cm²'", "strokeColor": "black", "fillColor": "white", "padding": 8, "labelFontSize": 22, "symbolSize": 90, "rowPadding": 7.9, "symbolOffset": 7, "labelOffset": 20}},
                    "shape": {"field": "j", "type": "nominal", "scale": {"domain": ["28","57","171","284","398","568","625"], "range": ["square","circle","triangle-up","diamond","M0,-1L0.235,-0.324L0.951,-0.309L0.38,0.124L0.588,0.809L0,0.4L-0.588,0.809L-0.38,0.124L-0.951,-0.309L-0.235,-0.324Z","M1,0A1,1 0 1,1 -1,0A1,1 0 1,1 1,0Z M0.72,0A0.72,0.72 0 1,0 -0.72,0A0.72,0.72 0 1,0 0.72,0Z M-0.688,-0.512L-0.512,-0.688L0.688,0.512L0.512,0.688Z M0.512,-0.688L0.688,-0.512L-0.512,0.688L-0.688,0.512Z","M0,-0.95L0.95,-0.26L0.59,0.86L-0.59,0.86L-0.95,-0.26Z"]},
                      "legend": {"orient": "none", "legendX": 426, "legendY": 0, "title": null, "labelExpr": "datum.label + ' mA/cm²'", "strokeColor": "black", "fillColor": "white", "padding": 8, "labelFontSize": 22, "symbolSize": 90, "rowPadding": 7.9, "symbolOffset": 7, "labelOffset": 20}}
                  }
                },
                {
                  "data": {"values": [{}]},
                  "mark": {"type": "rect", "fillOpacity": 0, "stroke": "black", "strokeWidth": 1.2},
                  "encoding": {"x": {"datum": 1.3, "type": "quantitative"}, "x2": {"datum": 2.0}, "y": {"datum": 0, "type": "quantitative"}, "y2": {"datum": 0.2}}
                }
              ]
            }
          ]
        }
      ]
    }
  ]
}
